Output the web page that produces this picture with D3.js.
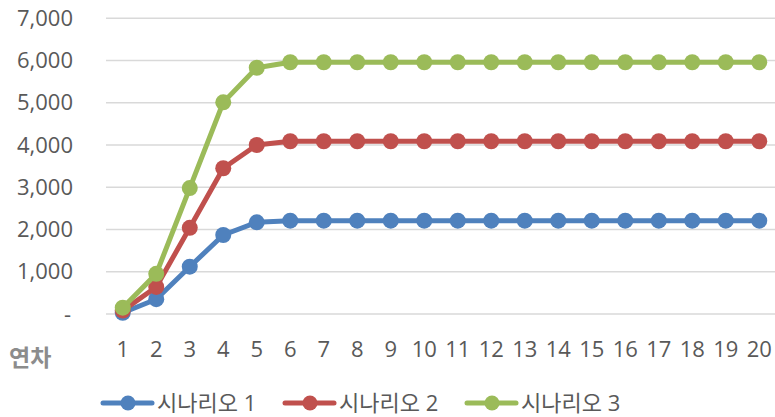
<!DOCTYPE html>
<html>
<head>
<meta charset="utf-8">
<script src="https://cdn.jsdelivr.net/npm/d3@7"></script>
<style>
  body { margin: 0; background: #fff; }
  svg text { font-family: "Open Sans", "Noto Sans CJK KR", sans-serif; fill: #595959; }
</style>
</head>
<body>
<svg id="chart" width="775" height="417"></svg>
<script>
// chart data
const years = d3.range(1, 21).map(String);
const scenario1 = [30, 350, 1120, 1870, 2170, 2210, 2210, 2210, 2210, 2210, 2210, 2210, 2210, 2210, 2210, 2210, 2210, 2210, 2210, 2210];
const scenario2 = [80, 640, 2040, 3450, 4000, 4090, 4090, 4090, 4090, 4090, 4090, 4090, 4090, 4090, 4090, 4090, 4090, 4090, 4090, 4090];
const scenario3 = [150, 950, 2980, 5010, 5830, 5960, 5960, 5960, 5960, 5960, 5960, 5960, 5960, 5960, 5960, 5960, 5960, 5960, 5960, 5960];
const yTicks = [0, 1000, 2000, 3000, 4000, 5000, 6000, 7000];

const series = [
  { name: "시나리오 1", values: scenario1, color: "#4f81bd" },
  { name: "시나리오 2", values: scenario2, color: "#c0504d" },
  { name: "시나리오 3", values: scenario3, color: "#9bbb59" }
];

const svg = d3.select("#chart");
const plotLeft = 106, plotRight = 776, plotTop = 18.3, plotBottom = 314;

const x = d3.scaleBand().domain(years).range([plotLeft, plotRight]);
const y = d3.scaleLinear().domain([0, 7000]).range([plotBottom, plotTop]);

// gridlines
svg.append("g").selectAll("line")
  .data(yTicks)
  .join("line")
  .attr("x1", plotLeft).attr("x2", plotRight)
  .attr("y1", d => y(d)).attr("y2", d => y(d))
  .attr("stroke", "#d9d9d9").attr("stroke-width", 1.5);

// y axis labels
const fmt = d3.format(",");
const yAxis = svg.append("g")
  .attr("transform", `translate(${plotLeft - 33},0)`)
  .call(d3.axisLeft(y).tickValues(yTicks).tickSize(0).tickPadding(0)
    .tickFormat(d => d === 0 ? "-" : fmt(d)));
yAxis.select(".domain").remove();
yAxis.selectAll("text").attr("font-size", 22).attr("fill", "#595959")
  .attr("font-family", "'Open Sans', sans-serif")
  .attr("dx", d => d === 0 ? -2 : 0);

// x axis labels
const xAxis = svg.append("g")
  .attr("transform", `translate(0,${plotBottom + 27})`)
  .call(d3.axisBottom(x).tickSize(0).tickPadding(0));
xAxis.select(".domain").remove();
xAxis.selectAll("text").attr("font-size", 22).attr("fill", "#595959")
  .attr("font-family", "'Open Sans', sans-serif");

svg.append("text")
  .attr("x", 9).attr("y", 366)
  .attr("font-size", 23).attr("font-weight", "bold")
  .attr("font-family", "'Noto Sans CJK KR', sans-serif")
  .style("fill", "#8c8c8c")
  .text("연차");

// lines
const line = d3.line()
  .x((d, i) => x(years[i]) + x.bandwidth() / 2)
  .y(d => y(d));

series.forEach(s => {
  svg.append("path")
    .datum(s.values)
    .attr("d", line)
    .attr("fill", "none")
    .attr("stroke", s.color)
    .attr("stroke-width", 5)
    .attr("stroke-linejoin", "round");
  svg.append("g").selectAll("circle")
    .data(s.values)
    .join("circle")
    .attr("cx", (d, i) => x(years[i]) + x.bandwidth() / 2)
    .attr("cy", d => y(d))
    .attr("r", 8)
    .attr("fill", s.color);
});

// legend
const legendX = [103, 285, 467];
const legend = svg.append("g").selectAll("g")
  .data(series)
  .join("g")
  .attr("transform", (d, i) => `translate(${legendX[i]},403)`);
legend.append("line")
  .attr("x1", 0).attr("x2", 49)
  .attr("stroke", d => d.color).attr("stroke-width", 5)
  .attr("stroke-linecap", "round");
legend.append("circle")
  .attr("cx", 25).attr("r", 7.5)
  .attr("fill", d => d.color);
legend.append("text")
  .attr("x", 54).attr("y", 8)
  .attr("font-size", 22)
  .attr("font-family", "'Noto Sans CJK KR', sans-serif")
  .text(d => d.name);
</script>
</body>
</html>
